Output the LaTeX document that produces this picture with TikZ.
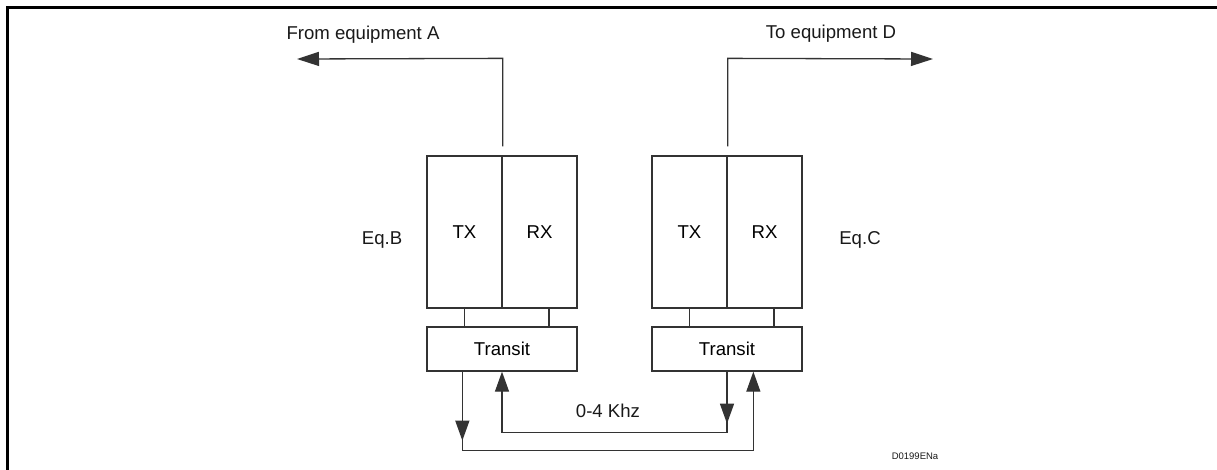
\documentclass[tikz,border=0pt]{standalone}
\usepackage{fontspec}
\setmainfont{Liberation Sans}
\usetikzlibrary{arrows.meta}
\begin{document}
\begin{tikzpicture}[x=1pt,y=-1pt,
  ln/.style={draw=black!80,line width=1.3pt},
  unit/.style={ln,minimum width=75pt,minimum height=152pt,inner sep=0pt,font=\fontsize{18.6pt}{22pt}\selectfont},
  trbox/.style={ln,minimum width=150pt,minimum height=44pt,inner sep=0pt,font=\fontsize{18.6pt}{22pt}\selectfont},
  lbl/.style={inner sep=0pt,text=black!90,font=\fontsize{18.6pt}{22pt}\selectfont},
  bigtip/.style={-{Triangle[length=22pt,width=14pt]}},
  tip/.style={-{Triangle[length=20pt,width=14pt]}},
  every path/.style={line join=miter}]
\useasboundingbox (0,0) rectangle (1217,469);
% frame
\draw[line width=3pt] (7.3,480) -- (7.3,7.3) -- (1230,7.3);
% equipment B
\node[unit] (txB) at (464.5,232) {TX};
\node[unit] (rxB) at (539.5,232) {RX};
\node[trbox] (tB) at (502,349) {Transit};
% equipment C
\node[unit] (txC) at (689.5,232) {TX};
\node[unit] (rxC) at (764.5,232) {RX};
\node[trbox] (tC) at (727,349) {Transit};
% labels
\node[lbl] (eqB) at (382,240) {Eq.B};
\node[lbl] (eqC) at (860,240) {Eq.C};
\node[lbl] (fromA) at (363,35) {From equipment A};
\node[lbl] (toD) at (831,34) {To equipment D};
\node[lbl] (khz) at (608,411) {0-4 Khz};
\node[inner sep=0pt,text=black!90,font=\fontsize{9.5pt}{11pt}\selectfont] (code) at (915,456) {D0199ENa};
% free ends
\coordinate (aEnd) at (297,59);
\coordinate (dEnd) at (933,59);
% top connectors
\draw[ln,bigtip] ([yshift=9pt]txB.north east) -- ++(0,-88) -- (aEnd);
\draw[ln,bigtip] ([yshift=9pt]txC.north east) -- ++(0,-88) -- (dEnd);
% unit to transit links
\draw[ln] (txB.south) -- (txB.south |- tB.north);
\draw[ln] ([xshift=9.5pt]rxB.south) -- ([xshift=9.5pt]rxB.south |- tB.north);
\draw[ln] (txC.south) -- (txC.south |- tC.north);
\draw[ln] ([xshift=9.5pt]rxC.south) -- ([xshift=9.5pt]rxC.south |- tC.north);
% 0-4 kHz loops
\coordinate (bo) at ([xshift=36pt]tB.south west);
\coordinate (co) at ([xshift=102pt]tC.south west);
\draw[ln,tip] (bo) -- ++(0,79) -| (co);
\draw[ln,tip] (bo) -- ++(0,69);
\draw[ln,tip] (tC.south) -- ++(0,61) -| (tB.south);
\draw[ln,tip] (tC.south) -- ++(0,52);
\end{tikzpicture}
\end{document}
